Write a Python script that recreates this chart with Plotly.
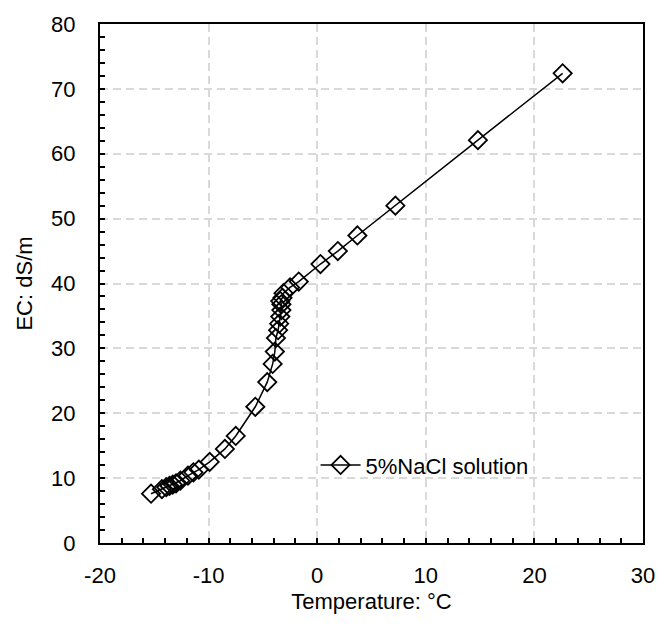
import plotly.graph_objects as go

temperature = [-15.3, -14.3, -13.9, -13.6, -13.3, -13.0, -12.6, -11.9, -11.4, -10.9,
               -9.9, -8.5, -7.5, -5.7, -4.6, -4.1, -3.9, -3.8, -3.6, -3.5,
               -3.4, -3.3, -3.3, -3.4, -3.2, -3.1, -2.5, -1.7, 0.3, 1.9,
               3.7, 7.2, 14.8, 22.6]
ec = [7.6, 8.3, 8.6, 8.8, 9.0, 9.2, 9.6, 10.4, 10.9, 11.3,
      12.5, 14.5, 16.5, 21.0, 24.8, 27.6, 29.5, 31.6, 32.8, 33.8,
      34.9, 35.9, 36.8, 37.3, 37.8, 38.5, 39.4, 40.3, 43.0, 45.0,
      47.4, 52.0, 62.1, 72.4]
series_name = "5%NaCl solution"
x_tick_vals = [-20, -10, 0, 10, 20, 30]
x_tick_text = ["-20", "-10", "0", "10", "20", "30"]
y_tick_vals = [0, 10, 20, 30, 40, 50, 60, 70, 80]
y_tick_text = ["0", "10", "20", "30", "40", "50", "60", "70", "80"]

font = "Liberation Sans, Arial, sans-serif"
fs = 22

fig = go.Figure()
fig.add_trace(go.Scatter(
    x=temperature, y=ec, mode="lines+markers", name=series_name,
    line=dict(color="black", width=1.5),
    marker=dict(symbol="diamond-open", size=14, color="black", line=dict(width=1.8, color="black")),
))

axis_common = dict(
    showline=True, linecolor="black", linewidth=2, mirror=True,
    ticks="inside", ticklen=5, tickwidth=1.5, tickcolor="black",
    showgrid=True, gridcolor="#d9d9d9", gridwidth=1.5, griddash="8px,5px",
    zeroline=False,
    tickfont=dict(family=font, size=fs, color="black"),
    minor=dict(ticks="inside", ticklen=5, tickwidth=1.5, tickcolor="black", dtick=2, showgrid=False),
)

fig.update_xaxes(range=[-20, 30], tickmode="array", tickvals=x_tick_vals, ticktext=x_tick_text,
                 ticklabelstandoff=12,
                 title=dict(text="Temperature: °C", font=dict(family=font, size=fs, color="black"), standoff=6),
                 **axis_common)
fig.update_yaxes(range=[0, 80], tickmode="array", tickvals=y_tick_vals, ticktext=y_tick_text,
                 ticklabelstandoff=18,
                 title=dict(text="EC: dS/m", font=dict(family=font, size=fs, color="black"), standoff=12),
                 **axis_common)

fig.update_layout(
    width=667, height=628,
    margin=dict(l=100, r=15, t=23, b=85),
    plot_bgcolor="white", paper_bgcolor="white",
    showlegend=True,
    legend=dict(x=0.397, y=0.15, xanchor="left", yanchor="middle", itemwidth=40,
                bgcolor="rgba(0,0,0,0)", font=dict(family=font, size=fs, color="black")),
)

fig.write_html("out.html")
